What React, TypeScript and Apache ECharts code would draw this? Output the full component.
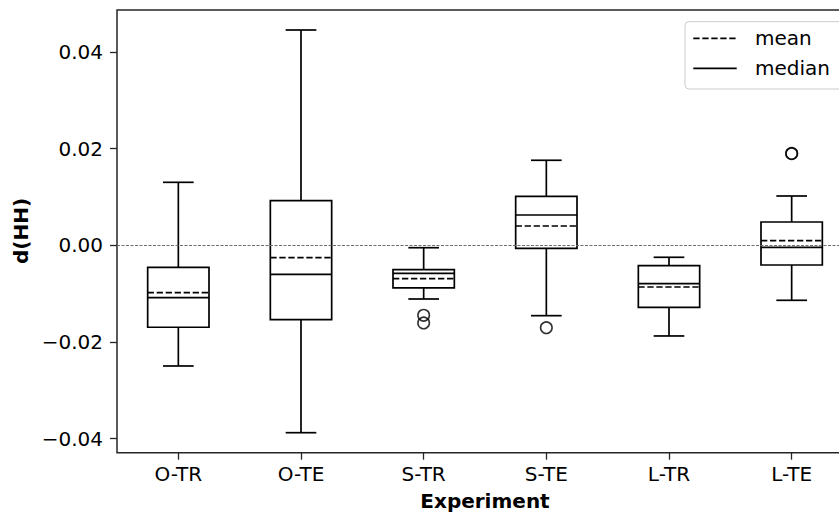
import React, { useEffect, useRef } from "react";
import * as echarts from "echarts";

// Experiments along the x axis
const categories = ["O-TR", "O-TE", "S-TR", "S-TE", "L-TR", "L-TE"];

// Five-number summaries per experiment: [whisker low, Q1, median, Q3, whisker high]
const whiskerLow = [-0.02496, -0.03876, -0.0111, -0.01455, -0.01875, -0.01137];
const q1 = [-0.01695, -0.01538, -0.00882, -0.00061, -0.01282, -0.00407];
const median = [-0.01083, -0.00599, -0.00578, 0.00628, -0.00793, -0.0004];
const q3 = [-0.00454, 0.00924, -0.00504, 0.01015, -0.00421, 0.00483];
const whiskerHigh = [0.01304, 0.04455, -0.00049, 0.0176, -0.00247, 0.01021];
const mean = [-0.0098, -0.00255, -0.0069, 0.004, -0.00862, 0.00096];

// Points beyond the whiskers: [category index, value]
const outliers: [number, number][] = [
  [2, -0.01447],
  [2, -0.01606],
  [3, -0.01704],
  [5, 0.01896],
  [5, 0.01902],
];

const yTicks = [-0.04, -0.02, 0, 0.02, 0.04];

const FONT = "DejaVu Sans";
const INK = "#000";
const LW = 1.7;
const DASH = [6.3, 2.7];

export default function App() {
  const ref = useRef<HTMLDivElement>(null);

  useEffect(() => {
    if (!ref.current) return;
    const chart = echarts.init(ref.current, null, { renderer: "svg" });

    const boxData = categories.map((_, i) => [
      i,
      whiskerLow[i],
      q1[i],
      median[i],
      q3[i],
      whiskerHigh[i],
      mean[i],
    ]);

    const fmt = (v: number) =>
      (v < 0 ? "\u2212" : "") + Math.abs(v).toFixed(2);

    const option: any = {
      animation: false,
      backgroundColor: "#fff",
      grid: {
        left: 117,
        top: 10,
        width: 736,
        height: 442.7,
        outerBoundsMode: "none",
        containLabel: false,
        show: true,
        borderColor: "#262626",
        borderWidth: 1.5,
        backgroundColor: "transparent",
      },
      xAxis: {
        type: "category",
        data: categories,
        position: "bottom",
        boundaryGap: true,
        axisLine: { show: false, onZero: false },
        axisTick: {
          show: true,
          alignWithLabel: true,
          length: 7,
          lineStyle: { color: "#262626", width: 1.3 },
        },
        axisLabel: {
          color: INK,
          fontFamily: FONT,
          fontSize: 20,
          margin: 11,
        },
        splitLine: { show: false },
      },
      yAxis: {
        type: "value",
        min: -0.0429,
        max: 0.04869,
        axisLine: { show: false, onZero: false },
        axisTick: {
          show: true,
          length: 7,
          customValues: yTicks,
          lineStyle: { color: "#262626", width: 1.3 },
        },
        axisLabel: {
          customValues: yTicks,
          color: INK,
          fontFamily: FONT,
          fontSize: 20,
          margin: 14,
          formatter: fmt,
        },
        splitLine: { show: false },
      },
      series: [
        {
          type: "custom",
          data: boxData,
          encode: { x: 0, y: [1, 2, 3, 4, 5, 6] },
          z: 3,
          renderItem: (params: any, api: any) => {
            const idx = api.value(0);
            const band = api.size([1, 0])[0];
            const px = (v: number) => api.coord([idx, v]);
            const cx = px(api.value(3))[0];
            const hb = band * 0.25;
            const hc = band * 0.125;
            const yLo = px(api.value(1))[1];
            const yQ1 = px(api.value(2))[1];
            const yMed = px(api.value(3))[1];
            const yQ3 = px(api.value(4))[1];
            const yHi = px(api.value(5))[1];
            const yMean = px(api.value(6))[1];
            const solid = { stroke: INK, lineWidth: LW, fill: null };
            const line = (x1: number, y1: number, x2: number, y2: number, style: any) => ({
              type: "line",
              shape: { x1, y1, x2, y2 },
              style,
            });
            return {
              type: "group",
              children: [
                line(cx, yQ3, cx, yHi, solid),
                line(cx, yQ1, cx, yLo, solid),
                line(cx - hc, yHi, cx + hc, yHi, solid),
                line(cx - hc, yLo, cx + hc, yLo, solid),
                {
                  type: "rect",
                  shape: { x: cx - hb, y: yQ3, width: 2 * hb, height: yQ1 - yQ3 },
                  style: { stroke: INK, lineWidth: LW, fill: "none" },
                },
                line(cx - hb, yMed, cx + hb, yMed, solid),
                line(cx - hb, yMean, cx + hb, yMean, {
                  stroke: INK,
                  lineWidth: LW,
                  lineDash: DASH,
                }),
              ],
            };
          },
          markLine: {
            silent: true,
            symbol: "none",
            label: { show: false },
            lineStyle: { color: "#6e6e6e", width: 1, type: [3, 1.5] },
            data: [{ yAxis: 0 }],
          },
        },
        {
          type: "scatter",
          data: outliers,
          symbol: "circle",
          symbolSize: 11.5,
          z: 4,
          itemStyle: {
            color: "rgba(0,0,0,0)",
            borderColor: INK,
            borderWidth: 1.6,
          },
        },
      ],
      graphic: [
        {
          type: "text",
          x: 485,
          y: 501,
          style: {
            text: "Experiment",
            fontFamily: FONT,
            fontSize: 20,
            fontWeight: "bold",
            fill: INK,
            align: "center",
            verticalAlign: "middle",
          },
        },
        {
          type: "text",
          x: 21,
          y: 231,
          rotation: Math.PI / 2,
          style: {
            text: "d(HH)",
            fontFamily: FONT,
            fontSize: 20,
            fontWeight: "bold",
            fill: INK,
            align: "center",
            verticalAlign: "middle",
          },
        },
        {
          type: "group",
          z: 10,
          children: [
            {
              type: "rect",
              shape: { x: 685, y: 21.7, width: 200, height: 67.3, r: 4 },
              style: { fill: "rgba(255,255,255,0.8)", stroke: "#cccccc", lineWidth: 1 },
            },
            {
              type: "line",
              shape: { x1: 693.3, y1: 38.3, x2: 736.7, y2: 38.3 },
              style: { stroke: INK, lineWidth: LW, lineDash: DASH },
            },
            {
              type: "line",
              shape: { x1: 693.3, y1: 68.3, x2: 736.7, y2: 68.3 },
              style: { stroke: INK, lineWidth: LW },
            },
            {
              type: "text",
              x: 755,
              y: 38.3,
              style: {
                text: "mean",
                fontFamily: FONT,
                fontSize: 20,
                fill: INK,
                align: "left",
                verticalAlign: "middle",
              },
            },
            {
              type: "text",
              x: 755,
              y: 68.3,
              style: {
                text: "median",
                fontFamily: FONT,
                fontSize: 20,
                fill: INK,
                align: "left",
                verticalAlign: "middle",
              },
            },
          ],
        },
      ],
    };

    chart.setOption(option);
    return () => chart.dispose();
  }, []);

  return (
    <div
      ref={ref}
      style={{ position: "absolute", left: 0, top: 0, width: 839, height: 515 }}
    />
  );
}
